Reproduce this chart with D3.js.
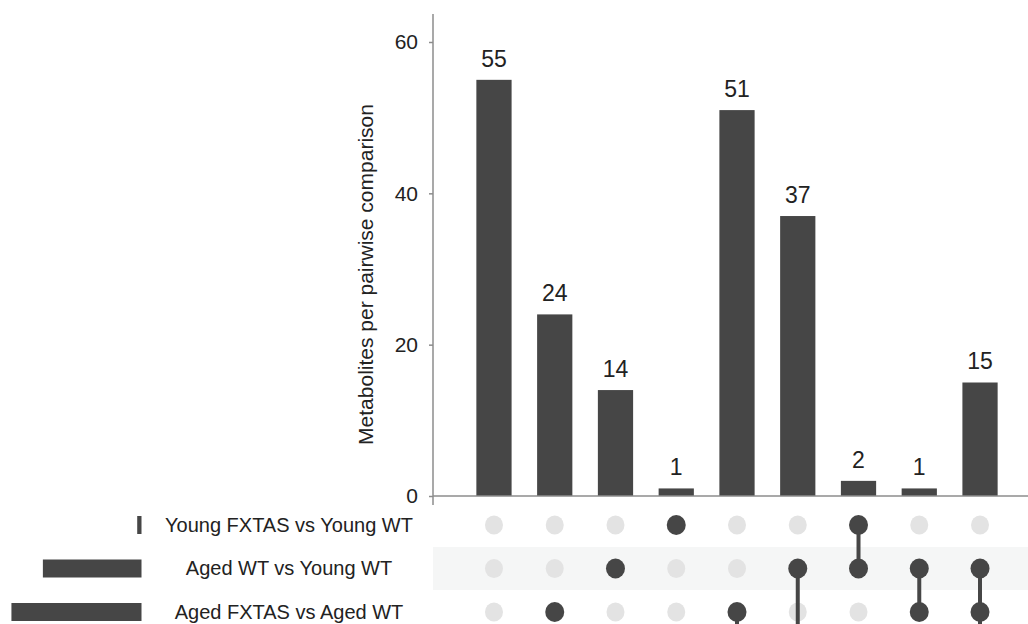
<!DOCTYPE html>
<html>
<head>
<meta charset="utf-8">
<script src="https://cdn.jsdelivr.net/npm/d3@7"></script>
<style>
    html, body { margin: 0; padding: 0; background: #fff; overflow: hidden; }
    svg { display: block; font-family: "Liberation Sans", Arial, sans-serif; }
</style>
</head>
<body>
<svg id="chart" width="1028" height="624"></svg>
<script>
// sets (rows of the matrix, top to bottom); the last row sits below the visible crop
const sets = ['Young FXTAS vs Young WT', 'Aged WT vs Young WT', 'Aged FXTAS vs Aged WT', 'Aged FXTAS vs Young FXTAS'];
const setSizes = [3, 69, 91, 158];

// intersections (columns), left to right
const intersectionCounts = [55, 24, 14, 1, 51, 37, 2, 1, 15];
const intersectionMembers = [
    [3],
    [2],
    [1],
    [0],
    [2, 3],
    [1, 3],
    [0, 1],
    [1, 2],
    [1, 2, 3]
];
const yTicks = [0, 20, 40, 60];

const WIDTH = 1028;
const HEIGHT = 624;
const DARK = '#464646';
const AXIS = '#8c8c8c';

const svg = d3.select('#chart');

const x = d3.scaleBand()
    .domain(d3.range(intersectionCounts.length))
    .range([463.6, 1010.4])
    .paddingInner(0.42)
    .paddingOuter(0.21);

const y = d3.scaleLinear()
    .domain([0, 63.7])
    .range([496, 14]);

const row = d3.scalePoint()
    .domain(d3.range(sets.length))
    .range([525, 655.5]);

const setX = d3.scaleLinear()
    .domain([0, 99])
    .range([141.5, 0]);

// ---- intersection bars ----
const barPlot = svg.append('g');

barPlot.selectAll('.bar')
    .data(intersectionCounts)
    .enter()
        .append('rect')
            .attr('class', 'bar')
            .attr('x', (d, i) => x(i))
            .attr('width', x.bandwidth())
            .attr('y', (d) => y(d))
            .attr('height', (d) => y(0) - y(d))
            .attr('fill', DARK);

barPlot.selectAll('.bar-label')
    .data(intersectionCounts)
    .enter()
        .append('text')
            .attr('class', 'bar-label')
            .attr('x', (d, i) => x(i) + x.bandwidth() / 2)
            .attr('y', (d) => y(d) - 13)
            .attr('text-anchor', 'middle')
            .attr('font-size', 23)
            .attr('fill', '#222')
            .text((d) => d);

// baseline
barPlot.append('line')
    .attr('x1', 433)
    .attr('x2', WIDTH)
    .attr('y1', y(0))
    .attr('y2', y(0))
    .attr('stroke', AXIS)
    .attr('stroke-width', 1.5);

// y axis
const yAxis = svg.append('g')
    .attr('transform', 'translate(433, 0)')
    .call(d3.axisLeft(y).tickValues(yTicks).tickSize(4).tickPadding(11).tickSizeOuter(0));

yAxis.select('.domain')
    .attr('d', `M0,${y.range()[1]}V${y(0) + 9}`)
    .attr('stroke', AXIS)
    .attr('stroke-width', 1.5);
yAxis.selectAll('.tick line').attr('stroke', AXIS).attr('stroke-width', 1.5);
yAxis.selectAll('.tick text')
    .attr('font-size', 21)
    .attr('font-family', '"Liberation Sans", Arial, sans-serif')
    .attr('fill', '#222');

svg.append('text')
    .attr('transform', `translate(373, ${(102 + 447) / 2}) rotate(-90)`)
    .attr('text-anchor', 'middle')
    .attr('font-size', 21)
    .attr('fill', '#222')
    .text('Metabolites per pairwise comparison');

// ---- matrix ----
const matrix = svg.append('g');

matrix.selectAll('.stripe')
    .data(sets.filter((d, i) => i % 2 === 1))
    .enter()
        .append('rect')
            .attr('class', 'stripe')
            .attr('x', 433)
            .attr('width', WIDTH - 433)
            .attr('y', (d) => row(sets.indexOf(d)) - 21.5)
            .attr('height', 43)
            .attr('fill', '#f5f6f6');

const cells = [];
intersectionCounts.forEach((c, i) => {
    sets.forEach((s, j) => {
        cells.push({ col: i, row: j, on: intersectionMembers[i].includes(j) });
    });
});

matrix.selectAll('.dot-off')
    .data(cells.filter((d) => !d.on))
    .enter()
        .append('ellipse')
            .attr('class', 'dot-off')
            .attr('cx', (d) => x(d.col) + x.bandwidth() / 2)
            .attr('cy', (d) => row(d.row))
            .attr('rx', 9)
            .attr('ry', 9.5)
            .attr('fill', '#e3e3e3');

matrix.selectAll('.link')
    .data(intersectionMembers.map((m, i) => ({ col: i, lo: d3.min(m), hi: d3.max(m) })).filter((d) => d.hi > d.lo))
    .enter()
        .append('line')
            .attr('class', 'link')
            .attr('x1', (d) => x(d.col) + x.bandwidth() / 2)
            .attr('x2', (d) => x(d.col) + x.bandwidth() / 2)
            .attr('y1', (d) => row(d.lo))
            .attr('y2', (d) => row(d.hi))
            .attr('stroke', DARK)
            .attr('stroke-width', 4);

matrix.selectAll('.dot-on')
    .data(cells.filter((d) => d.on))
    .enter()
        .append('ellipse')
            .attr('class', 'dot-on')
            .attr('cx', (d) => x(d.col) + x.bandwidth() / 2)
            .attr('cy', (d) => row(d.row))
            .attr('rx', 9.5)
            .attr('ry', 10)
            .attr('fill', DARK);

// ---- set size bars and names ----
const setPlot = svg.append('g');

setPlot.selectAll('.set-bar')
    .data(setSizes)
    .enter()
        .append('rect')
            .attr('class', 'set-bar')
            .attr('x', (d) => setX(d))
            .attr('width', (d) => setX(0) - setX(d))
            .attr('y', (d, i) => row(i) - 9)
            .attr('height', 18)
            .attr('fill', DARK);

// only the rows that fall inside the crop get a name
setPlot.selectAll('.set-name')
    .data(sets.map((name, i) => ({ name, i })).filter((d) => row(d.i) < HEIGHT))
    .enter()
        .append('text')
            .attr('class', 'set-name')
            .attr('x', 289)
            .attr('y', (d) => row(d.i))
            .attr('dy', '0.33em')
            .attr('text-anchor', 'middle')
            .attr('font-size', 20)
            .attr('fill', '#222')
            .text((d) => d.name);
</script>
</body>
</html>
